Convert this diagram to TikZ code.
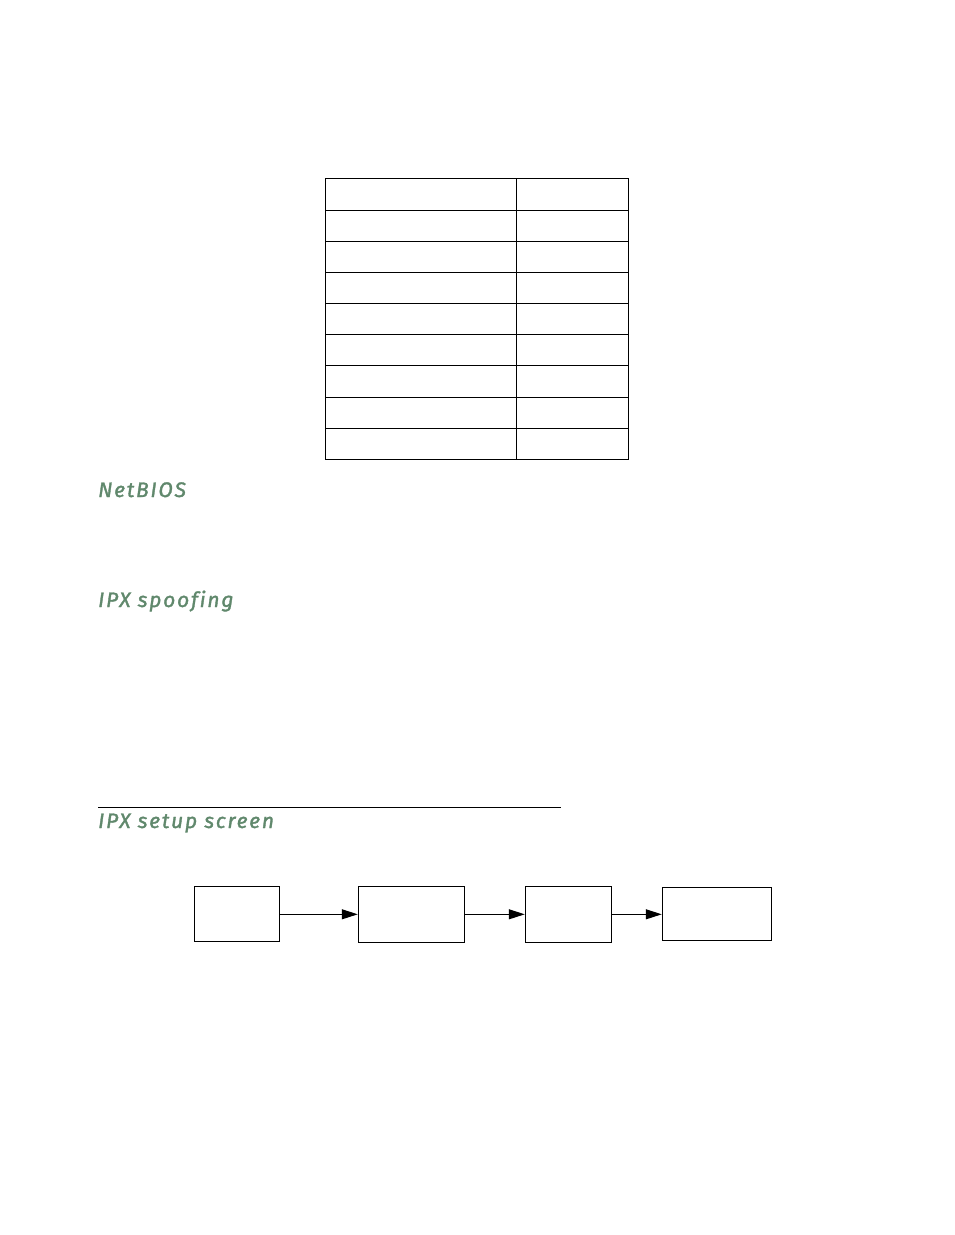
\documentclass[tikz,border=0pt]{standalone}
\usepackage{fontspec}
\setsansfont{Fira Sans}
\usetikzlibrary{arrows.meta}
\definecolor{headgreen}{RGB}{96,136,108}
\newfontfamily\headfont[LetterSpace=8.5, Ligatures={NoCommon}, FakeBold=1.6]{Fira Sans}
\tikzset{
  heading/.style={anchor=base west, inner sep=0pt, text=headgreen, font=\headfont\itshape\fontsize{21}{25}\selectfont},
  flowbox/.style={draw, line width=1.1pt, inner sep=0pt},
  flowarrow/.style={line width=1.1pt, -{Triangle[length=16pt,width=10pt]}},
  gridline/.style={line width=1.1pt}
}
\begin{document}
\begin{tikzpicture}[x=1pt,y=-1pt]
\useasboundingbox (0,0) rectangle (954,1235);
% table
\draw[gridline] (325.3,178.3) rectangle (628.3,459.3);
\draw[gridline] (516.7,178.3) -- (516.7,459.3);
\foreach \yy in {210.3,241.3,272.3,303.3,334.3,365.3,397.3,428.3}
  \draw[gridline] (325.3,\yy) -- (628.3,\yy);
% headings
\node[heading] (netbios) at (98,497) {NetBIOS};
\node[heading] (spoof) at (98,607) {IPX spoofing};
\coordinate (ruleA) at (98,807);
\coordinate (ruleB) at (561,807);
\draw[line width=1pt] (ruleA) -- (ruleB);
\node[heading] (setup) at (98,828) {IPX setup screen};
% flow boxes
\node[flowbox, minimum width=85pt, minimum height=54.7pt] (b1) at (236.8,913.7) {};
\node[flowbox, minimum width=106pt, minimum height=56pt] (b2) at (411.3,914.3) {};
\node[flowbox, minimum width=86.4pt, minimum height=56pt] (b3) at (568.5,914.3) {};
\node[flowbox, minimum width=109.4pt, minimum height=52.6pt] (b4) at (717,914) {};
\draw[flowarrow] (b1.east |- 0,914.3) -- (b2.west |- 0,914.3);
\draw[flowarrow] (b2.east |- 0,914.3) -- (b3.west |- 0,914.3);
\draw[flowarrow] (b3.east |- 0,914.3) -- (b4.west |- 0,914.3);
\end{tikzpicture}
\end{document}
